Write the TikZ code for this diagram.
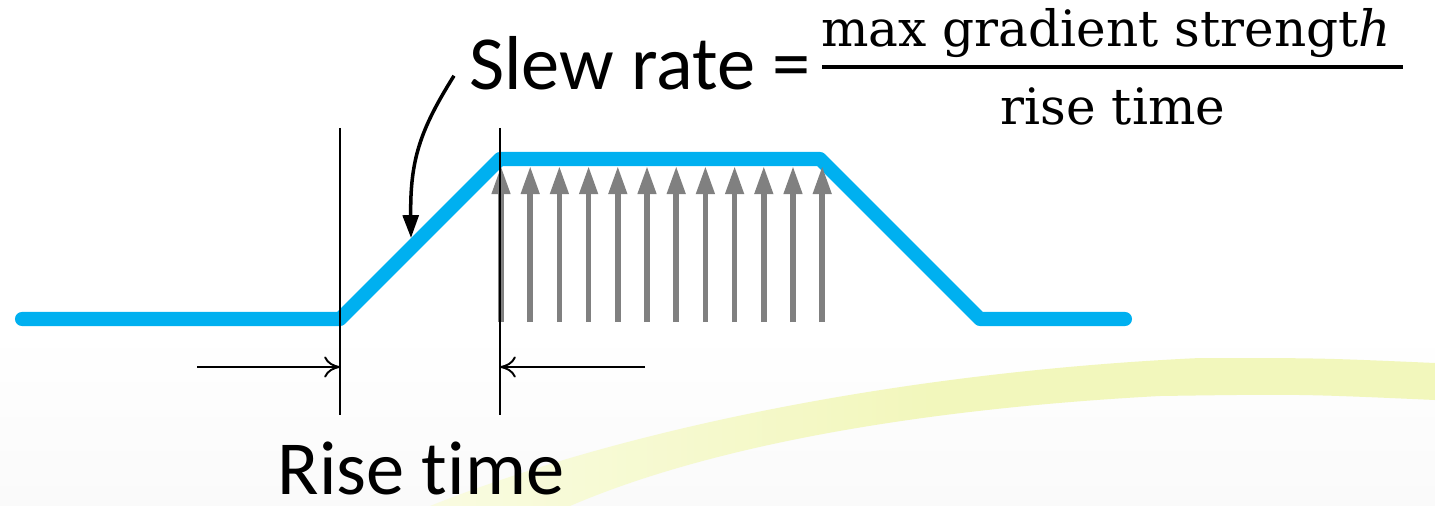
\documentclass[tikz,border=0pt]{standalone}
\usepackage{fontspec}
\setmainfont{Carlito}[Ligatures={NoCommon}]
\newfontfamily\fracfont{DejaVu Serif}
\usetikzlibrary{arrows.meta}
\definecolor{pulseblue}{RGB}{0,176,240}
\definecolor{fieldgray}{RGB}{128,128,128}
\definecolor{swoosh}{RGB}{242,247,188}

\begin{document}
\begin{tikzpicture}[x=0.2mm, y=-0.2mm,
  pulse/.style={line width=8pt, pulseblue, line cap=round, line join=round},
  field/.style={line width=3.2pt, fieldgray, -{Triangle[length=16pt,width=10pt]}},
  marker/.style={line width=1.1pt},
  dimarrow/.style={line width=1.1pt, -{To[length=9pt,width=12pt]}},
  bigtext/.style={inner sep=0pt, font=\fontsize{43.5}{50}\selectfont},
  fractext/.style={inner sep=0pt, font=\fracfont\fontsize{28.5}{34}\selectfont}]
% Background with the faint swoosh
\fill[white] (0,0) rectangle (1435,506);
\shade[top color=white, bottom color=gray!4] (0,330) rectangle (1435,506);
\shade[left color=swoosh!45!white, right color=swoosh, middle color=swoosh]
  (430,506) .. controls (620,430) and (900,372) .. (1200,358)
  .. controls (1320,358) .. (1435,363) -- (1435,400)
  .. controls (1300,394) .. (1160,396)
  .. controls (900,410) and (700,450) .. (570,506) -- cycle;
\useasboundingbox (0,0) rectangle (1435,506);
% Gradient pulse (trapezoid)
\draw[pulse] (22,319) -- (340,319) -- (500,159) -- (820,159) -- (980,319) -- (1125,319);
% Field arrows on the plateau
\foreach \i in {0,...,11}
  \draw[field] ({501+29.2*\i},322) -- ({501+29.2*\i},166);
% Rise time markers
\coordinate (tL) at (340,128);
\coordinate (bL) at (340,415);
\coordinate (tR) at (500,128);
\coordinate (bR) at (500,415);
\draw[marker] (tL) -- (bL);
\draw[marker] (tR) -- (bR);
\coordinate (dimL) at (197,367);
\coordinate (dimR) at (645,367);
\draw[dimarrow] (dimL) -- (dimL -| tL);
\draw[dimarrow] (dimR) -- (dimR -| tR);
\node[bigtext, anchor=base] (rise) at (421,494) {Rise t\kern0pt ime};
% Slew rate formula
\node[bigtext, anchor=base west] (slew) at (469,90) {Slew rate =};
\node[fractext, anchor=base] (num) at (1106,47) {max gradient strengt\textit{h}};
\node[fractext, anchor=base] (den) at (1113,125) {rise time};
\coordinate (barL) at (822,67);
\coordinate (barR) at (1403,67);
\draw[line width=2.8pt] (barL) -- (barR);
% Pointer to the ramp
\coordinate (ramp) at (411,238);
\draw[line width=2pt, -{Triangle[length=13pt,width=9pt]}]
  ([shift={(-15,12)}]slew.west) .. controls (420,130) and (410,160) .. (ramp);
\end{tikzpicture}
\end{document}
